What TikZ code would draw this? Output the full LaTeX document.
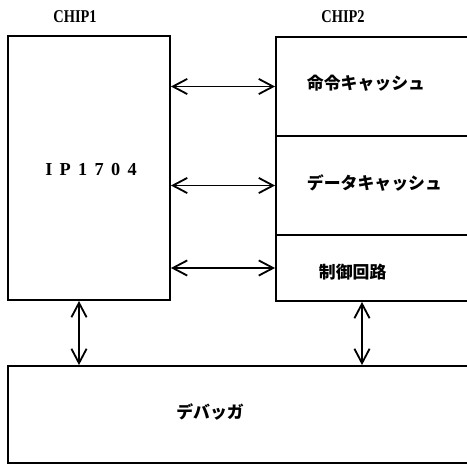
\documentclass[tikz,border=0pt]{standalone}
\usepackage{fontspec}
\usepackage{tikz}
\usetikzlibrary{arrows.meta}
\newfontfamily\jpfont{Noto Sans CJK JP}
\newfontfamily\chipfont{Liberation Serif}[UprightFont=* Bold, FakeStretch=0.8]
\newfontfamily\partfont{Liberation Serif}[LetterSpace=40]

\begin{document}
\begin{tikzpicture}[x=0.025cm, y=-0.025cm,
      blk/.style={rectangle, draw, line width=1.3pt, inner sep=0pt},
      jtxt/.style={font=\jpfont\bfseries\fontsize{12}{14}\selectfont, anchor=west},
      arr/.style={{Straight Barb[length=0.36cm, width=0.38cm]}-{Straight Barb[length=0.36cm, width=0.38cm]},
                  line width=1.3pt}
    ]
    \clip (0,0) rectangle (467,467);

    % chip labels
    \node[font=\chipfont\fontsize{12.8}{13}\selectfont] (c1) at (75,17) {CHIP1};
    \node[font=\chipfont\fontsize{12.8}{13}\selectfont] (c2) at (343,17) {CHIP2};

    % CHIP1
    \node[blk, minimum width=4.05cm, minimum height=6.6cm] (ip) at (89,168) {};
    \node[font=\partfont\bfseries\fontsize{13}{14}\selectfont] (iptxt) at (91,170) {IP1704};

    % CHIP2
    \node[blk, minimum width=5.35cm, minimum height=2.475cm] (icache) at (383,86.5)  {};
    \node[blk, minimum width=5.35cm, minimum height=2.475cm] (dcache) at (383,185.5) {};
    \node[blk, minimum width=5.35cm, minimum height=1.65cm]  (ctrl)   at (383,268)   {};
    \node[jtxt] (ictxt)   at (302,83)  {命令キャッシュ};
    \node[jtxt] (dctxt)   at (302,183) {データキャッシュ};
    \node[jtxt] (ctrltxt) at (314,272) {制御回路};

    % debugger
    \node[blk, minimum width=12.05cm, minimum height=2.425cm] (dbg) at (249,414.5) {};
    \node[font=\jpfont\bfseries\fontsize{12}{14}\selectfont] (dbgtxt) at (210,412) {デバッガ};

    % connections
    \foreach \b in {icache, dcache, ctrl}{
      \draw[arr] (ip.east |- \b.west) -- (\b.west);
    }
    \coordinate (dl) at (79,0);
    \coordinate (dr) at (362,0);
    \draw[arr] (ip.south -| dl)   -- (dbg.north -| dl);
    \draw[arr] (ctrl.south -| dr) -- (dbg.north -| dr);
  \end{tikzpicture}
\end{document}
